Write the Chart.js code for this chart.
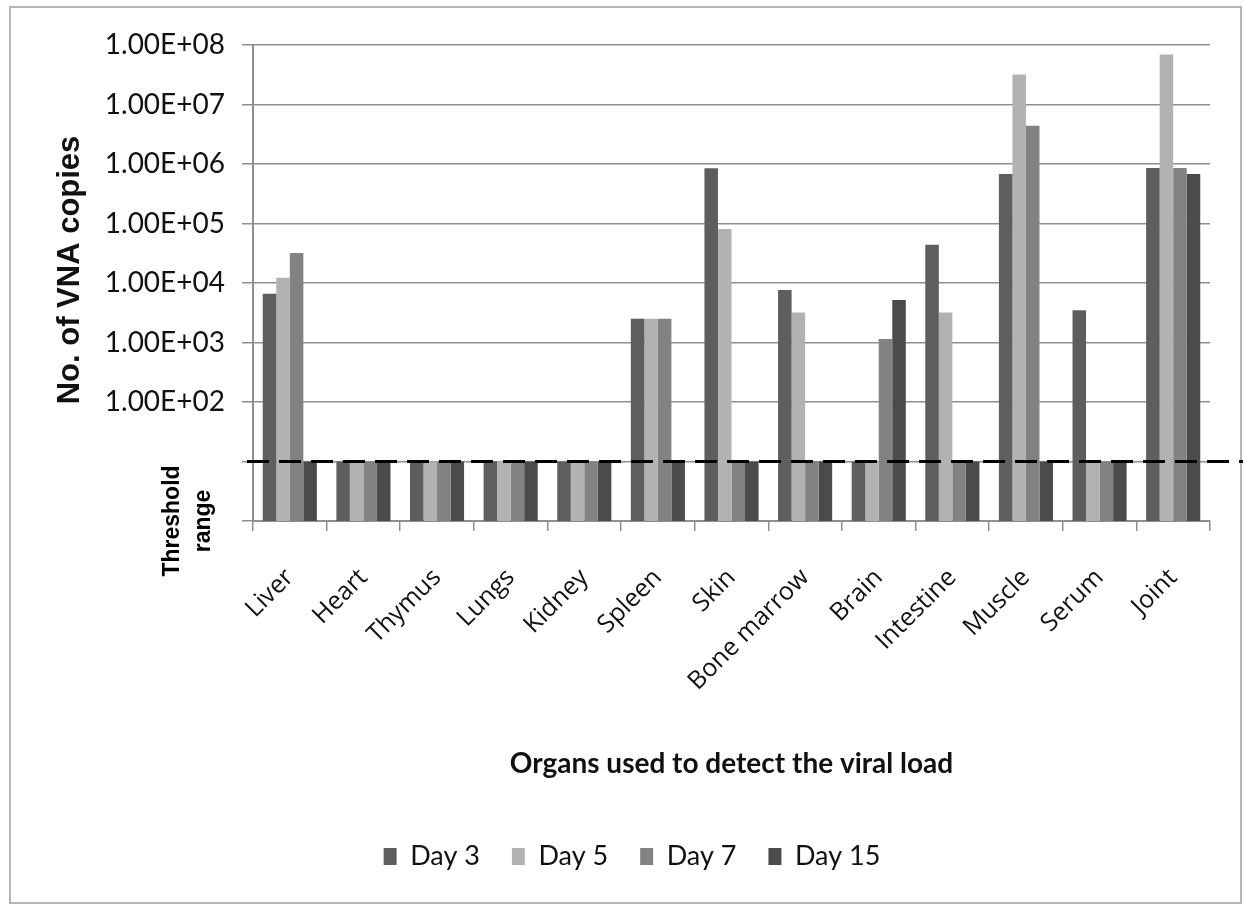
<!DOCTYPE html>
<html>
<head>
<meta charset="utf-8">
<script src="https://cdn.jsdelivr.net/npm/chart.js@4/dist/chart.umd.min.js"></script>
<style>
  body { margin: 0; background: #fff; }
  #wrap { width: 1243px; height: 905px; }
</style>
</head>
<body>
<div id="wrap"><canvas id="viralChart" width="1243" height="905"></canvas></div>
<script>
const organs = ['Liver', 'Heart', 'Thymus', 'Lungs', 'Kidney', 'Spleen', 'Skin', 'Bone marrow', 'Brain', 'Intestine', 'Muscle', 'Serum', 'Joint'];

// values below detection are drawn up to the threshold (10 copies)
const threshold = 10;
const day3 = [6600, 10, 10, 10, 10, 2500, 850000, 7600, 10, 44000, 680000, 3500, 860000];
const day5 = [12300, 10, 10, 10, 10, 2500, 81000, 3200, 10, 3200, 32000000, 10, 69000000];
const day7 = [32000, 10, 10, 10, 10, 2500, 10, 10, 1150, 10, 4400000, 10, 860000];
const day15 = [10, 10, 10, 10, 10, 10, 10, 10, 5200, 10, 10, 10, 680000];

const yTickValues = [1, 10, 100, 1000, 10000, 100000, 1000000, 10000000, 100000000];
const yTickLabels = ['', '', '1.00E+02', '1.00E+03', '1.00E+04', '1.00E+05', '1.00E+06', '1.00E+07', '1.00E+08'];

const gridGray = '#8f8f8f';

// frame, threshold line, its label and the y title
const extras = {
  id: 'extras',
  beforeDraw(chart) {
    const ctx = chart.ctx;
    ctx.save();
    ctx.fillStyle = '#fff';
    ctx.fillRect(0, 0, chart.width, chart.height);
    ctx.strokeStyle = '#b4b4b4';
    ctx.lineWidth = 2;
    ctx.strokeRect(10, 7, 1231, 896);
    ctx.restore();
  },
  afterDatasetsDraw(chart) {
    const ctx = chart.ctx;
    const y = chart.scales.y.getPixelForValue(threshold);
    ctx.save();
    ctx.strokeStyle = '#000';
    ctx.lineWidth = 3;
    ctx.setLineDash([22, 10]);
    ctx.beginPath();
    ctx.moveTo(247, y);
    ctx.lineTo(chart.width, y);
    ctx.stroke();
    ctx.setLineDash([]);
    ctx.fillStyle = '#000';
    ctx.textAlign = 'center';
    ctx.textBaseline = 'middle';

    ctx.save();
    ctx.font = 'bold 23px "Liberation Sans", Arial, sans-serif';
    ctx.translate(173, 521);
    ctx.rotate(-Math.PI / 2);
    ctx.fillText('Threshold', 0, 0);
    ctx.fillText('range', 0, 31);
    ctx.restore();

    ctx.font = 'bold 31px "Liberation Sans", Arial, sans-serif';
    ctx.fillStyle = '#111';
    ctx.translate(70, 270);
    ctx.rotate(-Math.PI / 2);
    ctx.fillText('No. of VNA copies', 0, 0);
    ctx.restore();
  }
};

const ctx = document.getElementById('viralChart').getContext('2d');
const viralChart = new Chart(ctx, {
  type: 'bar',
  data: {
    labels: organs,
    datasets: [
      { label: 'Day 3', data: day3, backgroundColor: '#5e5e5e' },
      { label: 'Day 5', data: day5, backgroundColor: '#b2b2b2' },
      { label: 'Day 7', data: day7, backgroundColor: '#828282' },
      { label: 'Day 15', data: day15, backgroundColor: '#4b4b4b' }
    ]
  },
  options: {
    responsive: false,
    animation: false,
    layout: { padding: { left: 54, right: 33, top: 45, bottom: 25 } },
    datasets: { bar: { categoryPercentage: 0.735, barPercentage: 1 } },
    plugins: {
      tooltip: { enabled: false },
      legend: {
        position: 'bottom',
        labels: {
          boxWidth: 13,
          boxHeight: 17,
          padding: 32,
          color: '#111',
          font: { family: 'Lato', size: 27 }
        }
      }
    },
    scales: {
      x: {
        afterFit(scale) { scale.height = 290; },
        grid: { drawOnChartArea: false, drawTicks: true, tickLength: 10, color: gridGray, lineWidth: 1.5, offset: true },
        border: { color: gridGray, width: 2 },
        ticks: {
          maxRotation: 45,
          minRotation: 45,
          padding: 32,
          color: '#111',
          font: { family: 'Open Sans', size: 25 }
        },
        title: {
          display: true,
          text: 'Organs used to detect the viral load',
          color: '#111',
          font: { family: 'Lato', size: 28, weight: 'bold' },
          padding: { top: 0, bottom: 30 }
        }
      },
      y: {
        type: 'logarithmic',
        min: 1,
        max: 100000000,
        afterFit(scale) { scale.width = 199; },
        afterBuildTicks(scale) {
          scale.ticks = yTickValues.map(v => ({ value: v }));
        },
        grid: { color: gridGray, lineWidth: 1.5, tickLength: 11 },
        border: { color: gridGray, width: 2 },
        ticks: {
          padding: 17,
          color: '#111',
          font: { family: 'Lato', size: 28 },
          callback: (v, i) => yTickLabels[i]
        }
      }
    }
  },
  plugins: [extras]
});
</script>
</body>
</html>
